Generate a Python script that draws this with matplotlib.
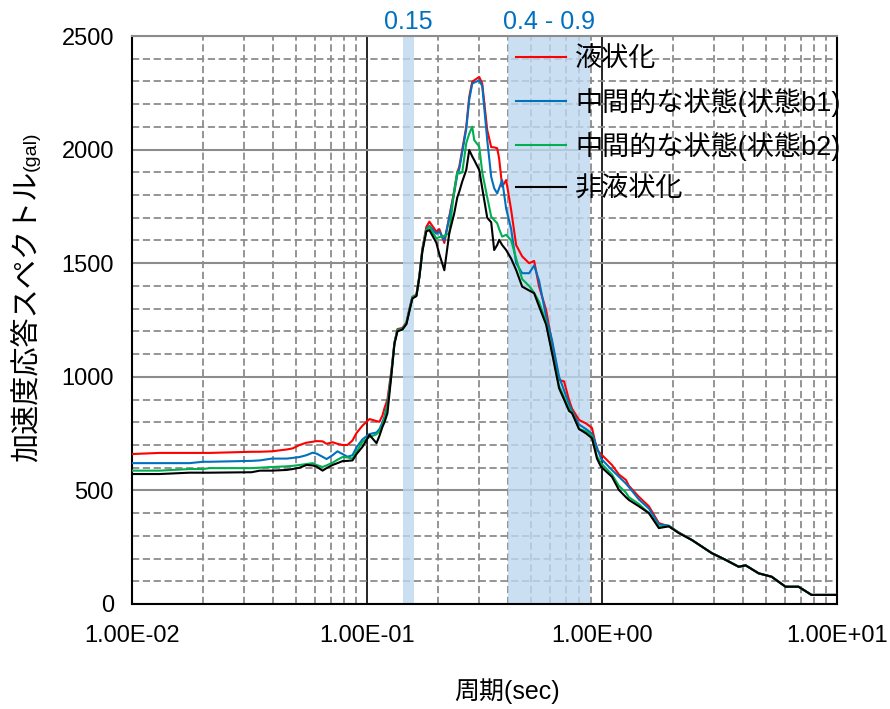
import matplotlib
matplotlib.use("Agg")
import matplotlib.pyplot as plt
from matplotlib.ticker import FixedLocator, FuncFormatter, MultipleLocator

plt.rcParams['font.family'] = ['Liberation Sans', 'Noto Sans CJK JP', 'DejaVu Sans']

# 周期 (sec)
period = [0.0100, 0.0131, 0.0176, 0.0200, 0.0214, 0.0323, 0.0350, 0.0393, 0.0455, 0.0483,
          0.0517, 0.0553, 0.0587, 0.0610, 0.0647, 0.0673, 0.0714, 0.0749, 0.0787, 0.0826,
          0.0868, 0.0903, 0.0957, 0.1025, 0.1098, 0.1130, 0.1164, 0.1187, 0.1222, 0.1271,
          0.1309, 0.1348, 0.1415, 0.1472, 0.1516, 0.1561, 0.1623, 0.1671, 0.1721, 0.1789,
          0.1843, 0.1973, 0.2032, 0.2134, 0.2240, 0.2352, 0.2423, 0.2471, 0.2544, 0.2645,
          0.2724, 0.2805, 0.2860, 0.3004, 0.3094, 0.3249, 0.3378, 0.3478, 0.3582, 0.3652,
          0.3761, 0.3911, 0.4108, 0.4313, 0.4575, 0.4898, 0.5144, 0.5400, 0.5785, 0.6135,
          0.6569, 0.6898, 0.7240, 0.7457, 0.7988, 0.8553, 0.9069, 0.9523, 0.9903, 1.1026,
          1.181, 1.265, 1.302, 1.436, 1.584, 1.746, 1.925, 2.123, 2.411, 2.932,
          3.362, 3.817, 4.088, 4.642, 5.272, 6.043, 6.864, 7.795, 10.0]

liq = [660, 665, 665, 665, 665, 670, 670, 672, 680, 685,
       700, 710, 714, 717, 716, 705, 712, 705, 700, 700,
       720, 753, 785, 814, 805, 802, 830, 862, 900, 1030,
       1150, 1210, 1215, 1240, 1300, 1352, 1362, 1445, 1565, 1660,
       1683, 1639, 1650, 1589, 1705, 1820, 1900, 1925, 2000, 2100,
       2233, 2299, 2305, 2320, 2290, 2086, 2011, 2010, 2006, 1960,
       1837, 1866, 1734, 1580, 1530, 1500, 1510, 1397, 1294, 1148,
       986, 980, 898, 860, 810, 795, 775, 678, 660, 612,
       570, 546, 520, 472, 430, 356, 342, 315, 282, 224,
       194, 164, 170, 135, 120, 76, 76, 40, 40]

mid_b1 = [620, 620, 620, 626, 626, 630, 632, 640, 640, 643,
          647, 655, 666, 662, 648, 638, 655, 672, 660, 648,
          655, 690, 725, 748, 755, 770, 800, 825, 880, 1020,
          1150, 1206, 1212, 1236, 1294, 1350, 1358, 1441, 1558, 1650,
          1665, 1630, 1640, 1600, 1700, 1810, 1890, 1915, 1990, 2090,
          2220, 2290, 2295, 2305, 2280, 2042, 1880, 1830, 1807, 1830,
          1866, 1740, 1650, 1500, 1456, 1456, 1490, 1423, 1264, 1160,
          1000, 940, 880, 850, 790, 770, 750, 690, 640, 590,
          560, 530, 515, 460, 420, 350, 345, 314, 282, 224,
          194, 164, 170, 135, 120, 76, 76, 40, 40]

mid_b2 = [587, 587, 594, 594, 598, 598, 600, 603, 606, 608,
          612, 616, 620, 612, 603, 610, 622, 635, 647, 645,
          640, 670, 714, 735, 747, 760, 790, 815, 870, 1015,
          1148, 1206, 1210, 1236, 1294, 1350, 1358, 1441, 1558, 1646,
          1661, 1609, 1615, 1620, 1632, 1822, 1903, 1895, 1900, 2028,
          2070, 2101, 2042, 2013, 1900, 1790, 1705, 1690, 1676, 1650,
          1617, 1625, 1600, 1520, 1430, 1400, 1370, 1330, 1240, 1110,
          960, 910, 860, 845, 770, 760, 740, 650, 620, 570,
          520, 490, 470, 440, 400, 340, 342, 313, 282, 224,
          194, 164, 170, 135, 120, 76, 76, 40, 40]

non_liq = [572, 572, 578, 578, 578, 580, 587, 587, 590, 594,
           600, 612, 610, 605, 587, 598, 612, 620, 629, 630,
           632, 660, 692, 744, 708, 740, 780, 800, 840, 1010,
           1145, 1200, 1208, 1232, 1290, 1345, 1355, 1438, 1552, 1640,
           1646, 1590, 1540, 1469, 1632, 1720, 1790, 1815, 1860, 1910,
           1998, 1970, 1954, 1910, 1830, 1700, 1680, 1558, 1580, 1603,
           1580, 1558, 1520, 1470, 1397, 1380, 1368, 1310, 1230, 1103,
           950, 900, 850, 840, 770, 751, 730, 640, 604, 560,
           502, 470, 458, 430, 400, 334, 342, 312, 282, 224,
           194, 164, 170, 135, 120, 76, 76, 40, 40]

series = [("液状化", liq, "#FF0000"),
          ("中間的な状態(状態b1)", mid_b1, "#0070C0"),
          ("中間的な状態(状態b2)", mid_b2, "#00B050"),
          ("非液状化", non_liq, "#000000")]

bands = [(0.142, 0.159, "0.15"), (0.398, 0.889, "0.4 - 0.9")]

fig = plt.figure(figsize=(8.9, 7.09), dpi=100)
ax = fig.add_axes([0.1483, 0.1481, 0.7921, 0.8011])

ax.set_xscale("log")
ax.set_xlim(0.01, 10)
ax.set_ylim(0, 2500)

# 目盛りとグリッド
ax.yaxis.set_major_locator(MultipleLocator(500))
ax.yaxis.set_minor_locator(MultipleLocator(100))
ax.xaxis.set_major_locator(FixedLocator([0.01, 0.1, 1, 10]))
minor_x = [m * 10.0 ** e for e in (-2, -1, 0) for m in range(2, 10)]
ax.xaxis.set_minor_locator(FixedLocator(minor_x))
ax.xaxis.set_major_formatter(FuncFormatter(lambda v, p: f"{v:.2E}"))
ax.xaxis.set_minor_formatter(FuncFormatter(lambda v, p: ""))

ax.grid(which="major", axis="y", color="#8c8c8c", linewidth=1.5, linestyle="-")
ax.grid(which="minor", axis="y", color="#8c8c8c", linewidth=1.3, linestyle=(0, (4, 2)))
ax.grid(which="major", axis="x", color="#000000", linewidth=1.2, linestyle="-")
ax.grid(which="minor", axis="x", color="#8c8c8c", linewidth=1.3, linestyle=(0, (4, 2)))
ax.set_axisbelow(True)

for lo, hi, lab in bands:
    ax.axvspan(lo, hi, color="#BDD7EE", alpha=0.8, zorder=1.5, linewidth=0)
    xc = (lo * hi) ** 0.5
    ax.text(xc, 1.004, lab, transform=ax.get_xaxis_transform(), ha="center", va="bottom",
            color="#0070C0", fontsize=18)

for name, vals, col in series:
    ax.plot(period, vals, color=col, linewidth=1.5, label=name, zorder=3)

ax.tick_params(which="both", length=0, labelsize=17)
ax.tick_params(axis="y", pad=13)
ax.tick_params(axis="x", pad=15)

for s in ["left", "bottom", "right"]:
    ax.spines[s].set_color("black")
    ax.spines[s].set_linewidth(1.5)
ax.spines["top"].set_color("#8c8c8c")
ax.spines["top"].set_linewidth(1.5)

ax.set_xlabel("周期(sec)", fontsize=18)
ax.xaxis.set_label_coords(0.532, -0.13)

# 縦軸ラベル: (gal) は小さめ
yl = ax.text(-0.1475, 0.25, "加速度応答スペクトル", transform=ax.transAxes, rotation=90,
             ha="center", va="bottom", fontsize=21)
ax.annotate("(gal)", xy=(0.6, 1.0), xycoords=yl, rotation=90, ha="center", va="bottom",
            fontsize=14)

ax.legend(loc="upper left", bbox_to_anchor=(0.5447, 0.982), frameon=False, fontsize=19.5,
          handlelength=1.85, handletextpad=0.33, labelspacing=0.57, borderpad=0,
          borderaxespad=0)

fig.savefig("out.png", dpi=100)
